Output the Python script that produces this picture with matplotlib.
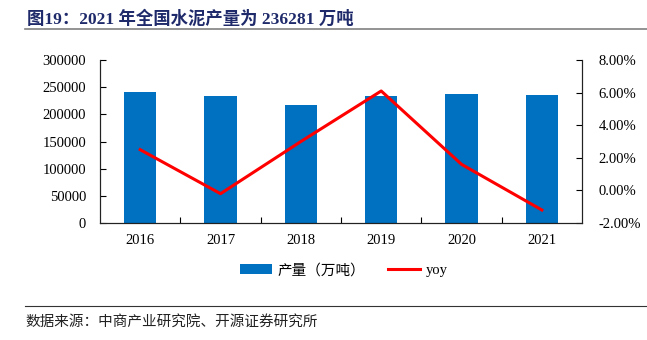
import numpy as np
import matplotlib.pyplot as plt
from matplotlib.ticker import FuncFormatter, FixedLocator
from matplotlib.lines import Line2D
from matplotlib.patches import Patch

plt.rcParams['font.family'] = ['Liberation Serif', 'Noto Sans CJK SC']

years = ['2016', '2017', '2018', '2019', '2020', '2021']
output = [240295, 233084, 217667, 234431, 237691, 236281]   # 万吨
yoy = [2.5, -0.2, 3.0, 6.1, 1.6, -1.2]                      # %

BAR_COLOR = '#0070C0'
LINE_COLOR = '#FF0000'
TITLE_COLOR = '#1F2A6B'

fig = plt.figure(figsize=(6.47, 3.40), dpi=100)
ax = fig.add_axes([0.1546, 0.344, 0.745, 0.4795])
ax2 = ax.twinx()

x = np.arange(len(years))
ax.bar(x, output, width=0.4, color=BAR_COLOR, zorder=2)
ax2.plot(x, yoy, color=LINE_COLOR, lw=2.2, zorder=3)

ax.set_xlim(-0.5, len(years) - 0.5)
ax.set_ylim(0, 300000)
ax.set_yticks(np.arange(0, 300001, 50000))
ax2.set_ylim(-2, 8)
ax2.set_yticks(np.arange(-2, 8.1, 2))
ax2.yaxis.set_major_formatter(FuncFormatter(lambda v, p: f'{v:.2f}%'))

ax.set_xticks(x)
ax.set_xticklabels(years)
ax.xaxis.set_minor_locator(FixedLocator(np.arange(0.5, len(years) - 1, 1)))
ax.tick_params(axis='x', which='major', length=0, pad=8, labelsize=10.5)
ax.tick_params(axis='x', which='minor', direction='in', length=4, width=0.8)
ax.tick_params(axis='y', direction='in', length=4, width=0.8, labelsize=10.5, pad=10)
ax2.tick_params(axis='y', direction='in', length=4, width=0.8, labelsize=10.5, pad=12)

for a in (ax, ax2):
    a.spines['top'].set_visible(False)
    for s in ('left', 'right', 'bottom'):
        a.spines[s].set_linewidth(0.8)
        a.spines[s].set_color('#222222')

handles = [Patch(facecolor=BAR_COLOR, edgecolor='none'),
           Line2D([0], [0], color=LINE_COLOR, lw=2.2)]
fig.legend(handles, ['产量（万吨）', 'yoy'], loc='center', bbox_to_anchor=(0.531, 0.205),
           ncol=2, frameon=False, fontsize=10.5, handlelength=2.2, handleheight=0.6,
           columnspacing=1.6, handletextpad=0.35,
           prop={'family': ['Liberation Serif', 'Noto Sans CJK SC'], 'size': 10.5})

# title and source lines
fig.text(0.042, 0.944, '图19：2021 年全国水泥产量为 236281 万吨', fontsize=12.5,
         fontweight='bold', color=TITLE_COLOR, va='center', ha='left')
fig.add_artist(Line2D([0.038, 1.0], [0.914, 0.914], color='#808080', lw=1.2))
fig.add_artist(Line2D([0.038, 1.0], [0.1, 0.1], color='#333333', lw=0.8))
fig.text(0.040, 0.053, '数据来源：中商产业研究院、开源证券研究所', fontsize=10.5,
         color='#222222', va='center', ha='left')

fig.savefig('out.png', dpi=100)
